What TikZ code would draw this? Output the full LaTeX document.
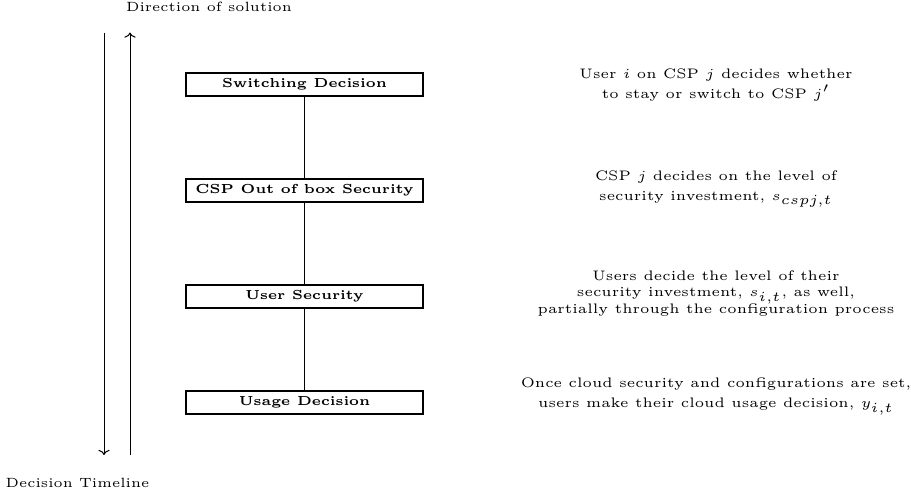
\documentclass[tikz,border=0pt]{standalone}
\usetikzlibrary{arrows.meta}
\newcommand{\bxt}[1]{\scalebox{1.31}{\fontsize{5}{6}\selectfont\bfseries #1}}
\newcommand{\nolsk}{\setlength{\lineskiplimit}{-10pt}\setlength{\lineskip}{0pt}}
\begin{document}
\begin{tikzpicture}[x=0.5pt,y=-0.5pt,
  stagebox/.style={draw,line width=0.6pt,minimum width=118.5pt,minimum height=11.5pt,inner sep=0pt},
  desc/.style={align=center,inner sep=0pt,scale=1.38,transform shape},
  descwide/.style={desc,font=\fontsize{5}{7.25}\selectfont\nolsk},
  descnarrow/.style={desc,font=\fontsize{5}{5.9}\selectfont\nolsk},
  lbl/.style={inner sep=0pt,scale=1.34,transform shape,font=\fontsize{5}{6}\selectfont},
  conn/.style={line width=0.5pt},
  timeline/.style={line width=0.5pt,-{To[length=2.6pt,width=5.6pt]}}]
\useasboundingbox (0,0) rectangle (911,495);
\node[stagebox] (sw) at (304.5,84.5) {\bxt{Switching Decision}};
\node[stagebox] (csp) at (304.5,190.5) {\bxt{CSP Out of box Security}};
\node[stagebox] (us) at (304.5,296.5) {\bxt{User Security}};
\node[stagebox] (ud) at (304.5,402.5) {\bxt{Usage Decision}};
\draw[conn] (sw) -- (csp);
\draw[conn] (csp) -- (us);
\draw[conn] (us) -- (ud);
\coordinate (dtop) at (104,32.5);
\coordinate (dbot) at (104,455);
\coordinate (utop) at (130,32.5);
\coordinate (ubot) at (130,455);
\draw[timeline] (dtop) -- (dbot);
\draw[timeline] (ubot) -- (utop);
\node[lbl] (dir) at (209,7) {Direction of solution};
\node[lbl] (dt) at (77.5,483) {Decision Timeline};
\node[descwide] (d1) at (716,85) {User $i$ on CSP $j$ decides whether\\ to stay or switch to CSP $j'$};
\node[descwide] (d2) at (716,189) {CSP $j$ decides on the level of\\ security investment, $s_{cspj,t}$};
\node[descnarrow] (d3) at (716,293.5) {Users decide the level of their\\ security investment, $s_{i,t}$, as well,\\ partially through the configuration process};
\node[descwide] (d4) at (716,396.5) {Once cloud security and configurations are set,\\ users make their cloud usage decision, $y_{i,t}$};
\end{tikzpicture}
\end{document}
